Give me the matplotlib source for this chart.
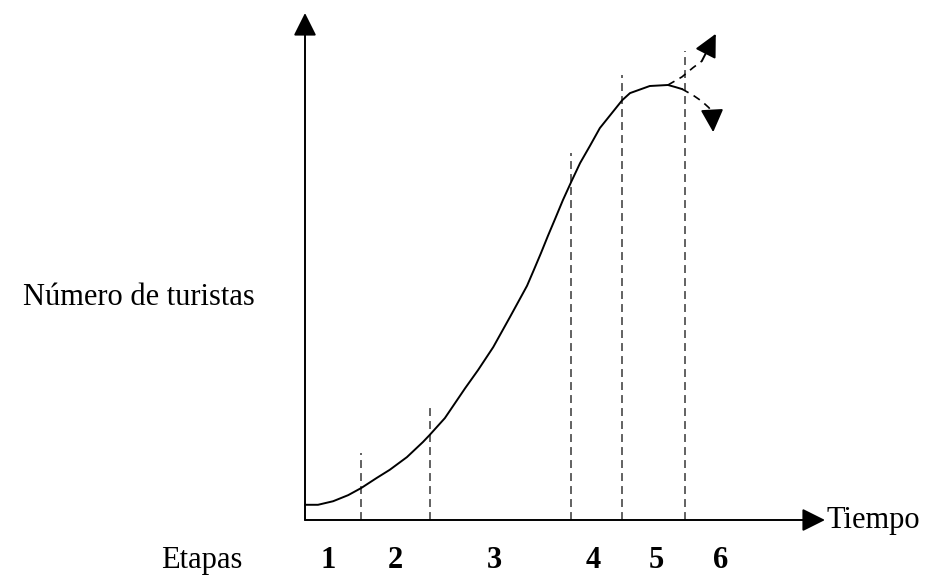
import matplotlib
matplotlib.use("Agg")
import matplotlib.pyplot as plt

# curva del ciclo de vida (tiempo, numero de turistas)
tiempo = [0, 2.5, 5.4, 8.3, 10.8, 13.8, 16.3, 19.6, 22.7, 24.0, 26.9, 30.8, 33.3, 36.2,
          39.4, 41.0, 42.7, 44.0, 45.4, 46.7, 48.1, 49.6, 51.2, 52.9, 54.8, 56.7, 61.0,
          62.5, 66.3, 69.8, 71.2, 72.5]
turistas = [3.0, 3.0, 3.7, 4.9, 6.3, 8.3, 9.9, 12.4, 15.4, 16.8, 20.1, 26.0, 29.6, 34.1,
            40.0, 43.0, 46.2, 49.3, 52.7, 56.0, 59.4, 63.1, 66.7, 70.4, 73.8, 77.3, 82.8,
            84.2, 85.6, 85.8, 85.4, 85.0]

# limites de las etapas (lineas discontinuas) y su altura
limites = [10.8, 24.0, 51.2, 61.0, 73.1]
alto_limites = [13.2, 22.5, 72.4, 87.8, 92.5]

# las dos salidas posibles al final (rejuvenecimiento / declive)
sube_t = [69.8, 72.5, 74.6, 76.3]
sube_n = [85.8, 87.4, 89.2, 90.5]
baja_t = [72.5, 74.6, 76.3, 77.7, 78.3]
baja_n = [85.0, 83.8, 82.6, 81.3, 80.3]
punta_sube = (79.0, 95.9)
punta_baja = (78.5, 76.5)

etapas = ["1", "2", "3", "4", "5", "6"]
pos_etapas = [4.4, 17.3, 36.5, 55.4, 67.5, 80.0]

plt.rcParams['font.family'] = ['Liberation Serif', 'DejaVu Serif']

fig = plt.figure(figsize=(9.27, 5.75), dpi=100)
ax = fig.add_axes([305 / 927, 55 / 575, 520 / 927, 507 / 575])
ax.set_xlim(0, 100)
ax.set_ylim(0, 100)
ax.axis('off')

flecha = dict(arrowstyle='-|>,head_length=1.0,head_width=0.5', color='black',
              lw=1.4, mutation_scale=14, shrinkA=0, shrinkB=0)

# ejes con flechas
ax.annotate('', xy=(0, 100), xytext=(0, 0), arrowprops=flecha, annotation_clip=False)
ax.annotate('', xy=(100, 0), xytext=(0, 0), arrowprops=flecha, annotation_clip=False)

# lineas de las etapas
for x, h in zip(limites, alto_limites):
    ax.plot([x, x], [0, h], color='#555555', lw=1.3, dashes=(4.4, 2.8), clip_on=False)

ax.plot(tiempo, turistas, color='black', lw=1.4, clip_on=False)

ax.plot(sube_t, sube_n, color='black', lw=1.2, dashes=(4.5, 3.5), clip_on=False)
ax.plot(baja_t, baja_n, color='black', lw=1.2, dashes=(4.5, 3.5), clip_on=False)
ax.annotate('', xy=punta_sube, xytext=(sube_t[-1], sube_n[-1]), arrowprops=flecha,
            annotation_clip=False)
ax.annotate('', xy=punta_baja, xytext=(baja_t[-1], baja_n[-1]), arrowprops=flecha,
            annotation_clip=False)

ax.text(-9.6, 42.4, "Número de turistas", ha='right', va='baseline', fontsize=22)
ax.text(100.2, -1.6, "Tiempo", ha='left', va='baseline', fontsize=22)
ax.text(-19.8, -9.5, "Etapas", ha='center', va='baseline', fontsize=22)
for e, x in zip(etapas, pos_etapas):
    ax.text(x, -9.5, e, ha='center', va='baseline', fontsize=22, fontweight='bold')

fig.savefig('out.png', dpi=100)
